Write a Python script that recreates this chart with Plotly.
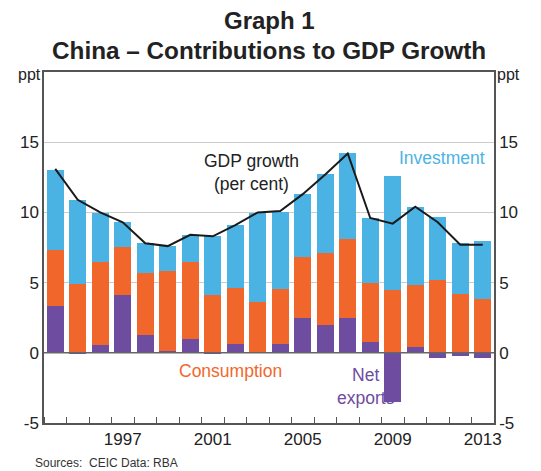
import plotly.graph_objects as go

years = list(range(1994, 2014))
net_exports = [3.3, -0.05, 0.55, 4.15, 1.25, 0.1, 1.0, -0.05, 0.65, 0.05,
               0.65, 2.45, 2.0, 2.5, 0.8, -3.5, 0.4, -0.4, -0.2, -0.35]
consumption = [4.0, 4.9, 5.95, 3.4, 4.4, 5.7, 5.5, 4.15, 4.0, 3.55,
               3.9, 4.4, 5.1, 5.6, 4.2, 4.5, 4.45, 5.2, 4.2, 3.8]
investment = [5.7, 6.0, 3.45, 1.75, 2.15, 1.8, 1.9, 4.15, 4.45, 6.35,
              5.5, 4.45, 5.6, 6.1, 4.6, 8.1, 5.55, 4.5, 3.6, 4.15]
gdp_growth = [13.1, 10.9, 10.0, 9.3, 7.8, 7.6, 8.4, 8.3, 9.1, 10.0,
              10.1, 11.3, 12.7, 14.2, 9.6, 9.2, 10.4, 9.3, 7.7, 7.7]
year_labels = [1997, 2001, 2005, 2009, 2013]
y_ticks = [-5, 0, 5, 10, 15]

C_INV = "#4BB3E3"
C_CON = "#F1672B"
C_NX = "#6E4C9F"
FONT = "Liberation Sans, Arial, sans-serif"
TXT = "#222222"

fig = go.Figure()
fig.add_trace(go.Bar(x=years, y=net_exports, marker=dict(color=C_NX, line=dict(width=0)), width=0.77))
fig.add_trace(go.Bar(x=years, y=consumption, marker=dict(color=C_CON, line=dict(width=0)), width=0.77))
fig.add_trace(go.Bar(x=years, y=investment, marker=dict(color=C_INV, line=dict(width=0)), width=0.77))
fig.add_trace(go.Scatter(x=years, y=gdp_growth, mode="lines", line=dict(color="#1a1a1a", width=2)))
# invisible trace to activate right axis
fig.add_trace(go.Scatter(x=years, y=gdp_growth, mode="lines", line=dict(width=0), yaxis="y2",
                         hoverinfo="skip", opacity=0))

axis_common = dict(range=[-5, 20], tickvals=y_ticks, ticktext=[str(v) for v in y_ticks],
                   showgrid=True, gridcolor="#cccccc", gridwidth=1,
                   zeroline=False, showline=True, linecolor="#555555", linewidth=1.5,
                   ticks="", tickfont=dict(family=FONT, size=17, color=TXT), fixedrange=True)

fig.update_layout(
    width=533, height=463,
    barmode="relative",
    bargap=0,
    showlegend=False,
    plot_bgcolor="white", paper_bgcolor="white",
    margin=dict(l=27, r=47, t=64, b=48),
    font=dict(family=FONT, color=TXT),
    xaxis=dict(range=[1993.5, 2013.5], tickvals=year_labels, ticktext=[str(v) for v in year_labels],
               ticks="", showline=True, linecolor="#555555", linewidth=1.5, mirror=True,
               showgrid=False, zeroline=False,
               minor=dict(tick0=1993.5, dtick=1, ticks="inside", ticklen=6, tickcolor="#555555", tickwidth=1),
               tickfont=dict(family=FONT, size=17, color=TXT)),
    yaxis=dict(**axis_common, side="left"),
    yaxis2=dict(**axis_common, side="right", overlaying="y"),
    shapes=[dict(type="line", xref="paper", x0=0, x1=1, yref="y", y0=0, y1=0,
                 line=dict(color="#666666", width=1.5), layer="above")],
    annotations=[
        dict(text="<b>Graph 1</b>", xref="paper", yref="paper", x=0.5, y=1.0, xanchor="center",
             yanchor="middle", yshift=52, showarrow=False,
             font=dict(family=FONT, size=24, color=TXT)),
        dict(text="<b>China – Contributions to GDP Growth</b>", xref="paper", yref="paper", x=0.5, y=1.0,
             xanchor="center", yanchor="middle", yshift=22, showarrow=False,
             font=dict(family=FONT, size=24.3, color=TXT)),
        dict(text="ppt", xref="paper", yref="paper", x=0, y=1, xanchor="right", yanchor="middle",
             xshift=-1, yshift=-2, showarrow=False, font=dict(family=FONT, size=16, color=TXT)),
        dict(text="ppt", xref="paper", yref="paper", x=1, y=1, xanchor="left", yanchor="middle",
             xshift=1, yshift=-2, showarrow=False, font=dict(family=FONT, size=16, color=TXT)),
        dict(text="GDP growth<br>(per cent)", x=2002.7, y=12.85, xref="x", yref="y", showarrow=False,
             font=dict(family=FONT, size=17.5, color=TXT)),
        dict(text="Investment", x=2011.2, y=13.85, xref="x", yref="y", showarrow=False,
             font=dict(family=FONT, size=17.5, color=C_INV)),
        dict(text="Consumption", x=2001.8, y=-1.3, xref="x", yref="y", showarrow=False,
             font=dict(family=FONT, size=17.5, color=C_CON)),
        dict(text="Net<br>exports", x=2007.8, y=-2.4, xref="x", yref="y", showarrow=False,
             font=dict(family=FONT, size=17.5, color=C_NX)),
        dict(text="Sources:  CEIC Data: RBA", xref="paper", yref="paper", x=0, y=0, xanchor="left",
             yanchor="middle", xshift=-11, yshift=-40, showarrow=False,
             font=dict(family=FONT, size=12, color="#333333")),
    ],
)

fig.write_html("out.html")
